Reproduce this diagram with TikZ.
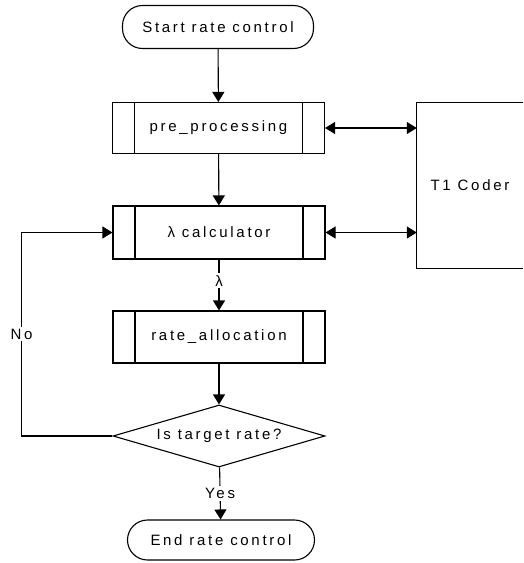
\documentclass[tikz,border=0pt]{standalone}
\usepackage{fontspec}
\usepackage{tikz}
\usetikzlibrary{arrows.meta, shapes.geometric}
\setmainfont[LetterSpace=18]{Liberation Sans}

\tikzset{
  flow/.style={line width=1.1pt, -{Triangle[length=10pt,width=12pt]}},
  terminal/.style={draw, line width=1.1pt, rounded corners=20pt, inner sep=0pt},
  subproc/.style={draw, line width=1.1pt, minimum width=212pt, minimum height=52pt, inner sep=0pt,
    path picture={
      \draw[line width=1.1pt] ([xshift=22pt]path picture bounding box.north west) -- ([xshift=22pt]path picture bounding box.south west);
      \draw[line width=1.1pt] ([xshift=-22pt]path picture bounding box.north east) -- ([xshift=-22pt]path picture bounding box.south east);
    }},
  decision/.style={draw, diamond, line width=1.1pt, aspect=3.4, minimum width=212pt, minimum height=62pt, inner sep=0pt},
  lbl/.style={fill=white, inner sep=2pt}
}

\begin{document}
\begin{tikzpicture}[x=1pt, y=-1pt, font=\fontsize{15}{17}\selectfont]
  \useasboundingbox (0,0) rectangle (524,563);

  % main column
  \node[terminal, minimum width=191pt, minimum height=43pt] (start) at (218,27) {Start rate control};
  \node[subproc, minimum height=51pt] (pre) at (218.5,128) {pre\_processing};
  \node[subproc, minimum height=53pt] (calc) at (219,232.5) {λ calculator};
  \node[subproc] (alloc) at (219,337) {rate\_allocation};
  \node[decision] (check) at (219,436) {Is target rate?};
  \node[terminal, minimum width=187pt, minimum height=40pt] (stop) at (221,540) {End rate control};

  % coder block, open on the right
  \node[minimum width=106pt, minimum height=165pt, inner sep=0pt] (coder) at (470,185.5) {T1 Coder};
  \draw[line width=1.1pt] (coder.north east) -- (coder.north west) -- (coder.south west) -- (coder.south east);

  \draw[flow] (start) -- (pre);
  \draw[flow] (pre) -- (calc);
  \draw[flow] (calc) -- node[lbl, pos=0.42] {λ} (alloc);
  \draw[flow] (alloc) -- (check);
  \draw[flow] (check) -- node[lbl] {Yes} (stop);
  \draw[flow] (check.west) -- ++(-91,0) |- node[lbl, pos=0.25] {No} (calc.west);

  \draw[flow, {Triangle[length=10pt,width=12pt]}-{Triangle[length=10pt,width=12pt]}] (pre.east) -- (pre.east -| coder.west);
  \draw[flow, {Triangle[length=10pt,width=12pt]}-{Triangle[length=10pt,width=12pt]}] (calc.east) -- (calc.east -| coder.west);
\end{tikzpicture}
\end{document}
